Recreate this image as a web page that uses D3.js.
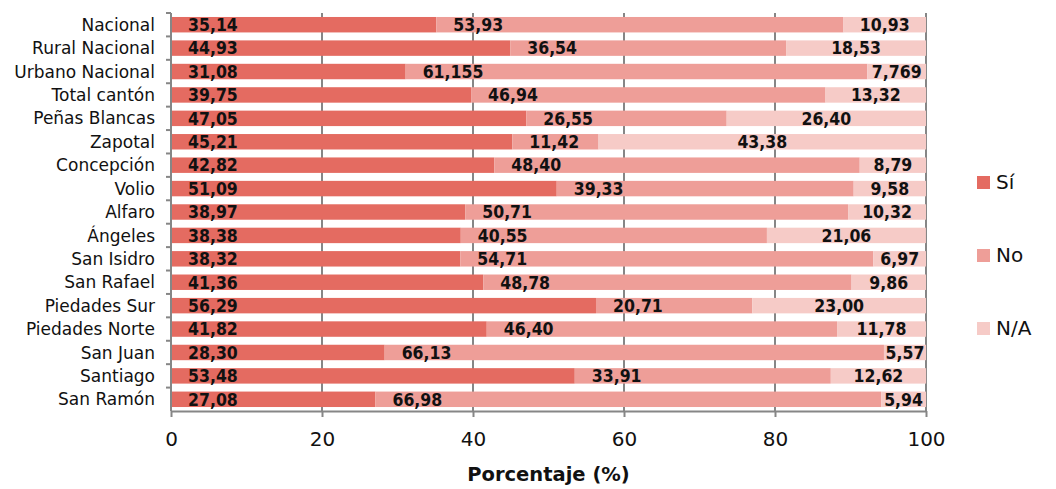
<!DOCTYPE html>
<html>
<head>
<meta charset="utf-8">
<script src="https://cdn.jsdelivr.net/npm/d3@7"></script>
<style>
	body { margin: 0; background: #fff; }
	svg text { font-family: 'DejaVu Sans', sans-serif; fill: #111; }
	.axis path, .axis line { stroke: #868686; stroke-width: 2px; }
	.grid line { stroke: #868686; stroke-width: 2px; }
	.val { font-family: 'DejaVu Sans Condensed', 'DejaVu Sans', sans-serif; font-weight: bold; font-size: 17.5px; }
</style>
</head>
<body>
<svg id="chart" width="1056" height="489"></svg>
<script>

var categories = [ 'Nacional', 'Rural Nacional', 'Urbano Nacional', 'Total cantón', 'Peñas Blancas', 'Zapotal',
	'Concepción', 'Volio', 'Alfaro', 'Ángeles', 'San Isidro', 'San Rafael', 'Piedades Sur', 'Piedades Norte',
	'San Juan', 'Santiago', 'San Ramón' ];

// values as printed on the chart (kept as strings for the labels' decimals)
var si = [ '35.14', '44.93', '31.08', '39.75', '47.05', '45.21', '42.82', '51.09', '38.97', '38.38', '38.32', '41.36', '56.29', '41.82', '28.30', '53.48', '27.08' ];
var no = [ '53.93', '36.54', '61.155', '46.94', '26.55', '11.42', '48.40', '39.33', '50.71', '40.55', '54.71', '48.78', '20.71', '46.40', '66.13', '33.91', '66.98' ];
var na = [ '10.93', '18.53', '7.769', '13.32', '26.40', '43.38', '8.79', '9.58', '10.32', '21.06', '6.97', '9.86', '23.00', '11.78', '5.57', '12.62', '5.94' ];

var seriesNames = [ 'Sí', 'No', 'N/A' ];
var colors = [ '#e46b61', '#ee9e98', '#f6cbc7' ];
var xTicks = [ 0, 20, 40, 60, 80, 100 ];

var padding = { top: 13, right: 130, bottom: 78, left: 171 };
var width = 1056 - padding.left - padding.right;
var height = 489 - padding.top - padding.bottom;

var svg = d3.select( '#chart' );

var raw = { 'Sí': si, 'No': no, 'N/A': na };

var rows = categories.map( function ( c, i ) {
	return { cat: c, index: i, 'Sí': +si[i], 'No': +no[i], 'N/A': +na[i] };
} );

var stacked = d3.stack().keys( seriesNames )( rows );

var x = d3.scaleLinear().domain( [ 0, 100 ] ).range( [ 0, width ] );
var y = d3.scaleBand().domain( categories ).range( [ 0, height ] ).paddingInner( 0.34 ).paddingOuter( 0.17 );
var yEdge = d3.scaleBand().domain( categories ).range( [ 0, height ] );

var g = svg.append( 'g' )
	.attr( 'transform', 'translate(' + padding.left + ',' + padding.top + ')' );

// vertical grid
g.append( 'g' )
	.classed( 'grid', true )
	.selectAll( 'line' )
	.data( xTicks.slice( 1 ) )
	.enter()
	.append( 'line' )
	.attr( 'x1', function ( d ) { return x( d ); } )
	.attr( 'x2', function ( d ) { return x( d ); } )
	.attr( 'y1', 0 )
	.attr( 'y2', height );

// bars
var layers = g.selectAll( 'g.layer' )
	.data( stacked )
	.enter()
	.append( 'g' )
	.classed( 'layer', true )
	.style( 'fill', function ( d, i ) { return colors[i]; } );

layers.selectAll( 'rect' )
	.data( function ( d ) { return d; } )
	.enter()
	.append( 'rect' )
	.attr( 'x', function ( d ) { return x( d[0] ); } )
	.attr( 'width', function ( d ) { return x( d[1] ) - x( d[0] ); } )
	.attr( 'y', function ( d ) { return y( d.data.cat ); } )
	.attr( 'height', y.bandwidth() );

// value labels
stacked.forEach( function ( layer, li ) {
	g.append( 'g' )
		.selectAll( 'text' )
		.data( layer )
		.enter()
		.append( 'text' )
		.classed( 'val', true )
		.attr( 'x', function ( d ) {
			if ( li === 2 ) return ( x( d[0] ) + x( d[1] ) ) / 2;
			return x( d[0] ) + 17;
		} )
		.attr( 'text-anchor', li === 2 ? 'middle' : 'start' )
		.attr( 'y', function ( d ) { return y( d.data.cat ) + y.bandwidth() / 2; } )
		.attr( 'dy', '0.36em' )
		.text( function ( d ) { return raw[layer.key][d.data.index].replace( '.', ',' ); } );
} );

// y axis: line plus ticks at band edges
var yAxis = g.append( 'g' ).classed( 'axis', true );
yAxis.append( 'line' )
	.attr( 'x1', 0 ).attr( 'x2', 0 )
	.attr( 'y1', 0 ).attr( 'y2', height );
yAxis.selectAll( 'line.tick' )
	.data( categories )
	.enter()
	.append( 'line' )
	.classed( 'tick', true )
	.attr( 'x1', -5 ).attr( 'x2', 0 )
	.attr( 'y1', function ( d ) { return yEdge( d ); } )
	.attr( 'y2', function ( d ) { return yEdge( d ); } );

yAxis.selectAll( 'text' )
	.data( categories )
	.enter()
	.append( 'text' )
	.attr( 'x', -16 )
	.attr( 'y', function ( d ) { return y( d ) + y.bandwidth() / 2; } )
	.attr( 'dy', '0.36em' )
	.attr( 'text-anchor', 'end' )
	.style( 'font-size', '17px' )
	.text( function ( d ) { return d; } );

// x axis
var xAxis = d3.axisBottom( x )
	.tickValues( xTicks )
	.tickSize( 6 )
	.tickSizeOuter( 0 )
	.tickPadding( 15 )
	.tickFormat( d3.format( 'd' ) );

var xg = g.append( 'g' )
	.classed( 'axis', true )
	.attr( 'transform', 'translate(0,' + height + ')' )
	.call( xAxis );

xg.selectAll( 'text' )
	.style( 'font-size', '20px' )
	.style( 'font-family', "'DejaVu Sans', sans-serif" )
	.style( 'fill', '#111' );

g.append( 'text' )
	.attr( 'x', width / 2 )
	.attr( 'y', height + 70 )
	.attr( 'text-anchor', 'middle' )
	.style( 'font-weight', 'bold' )
	.style( 'font-size', '19.5px' )
	.text( 'Porcentaje (%)' );

// legend
var legend = svg.append( 'g' )
	.attr( 'transform', 'translate(977,0)' );

var legendY = d3.scalePoint().domain( seriesNames ).range( [ 182, 328 ] );

legend.selectAll( 'rect' )
	.data( seriesNames )
	.enter()
	.append( 'rect' )
	.attr( 'x', 0 )
	.attr( 'y', function ( d ) { return legendY( d ) - 6; } )
	.attr( 'width', 13 )
	.attr( 'height', 13 )
	.style( 'fill', function ( d, i ) { return colors[i]; } );

legend.selectAll( 'text' )
	.data( seriesNames )
	.enter()
	.append( 'text' )
	.attr( 'x', 19 )
	.attr( 'y', function ( d ) { return legendY( d ); } )
	.attr( 'dy', '0.36em' )
	.style( 'font-size', '20px' )
	.text( function ( d ) { return d; } );

</script>
</body>
</html>
